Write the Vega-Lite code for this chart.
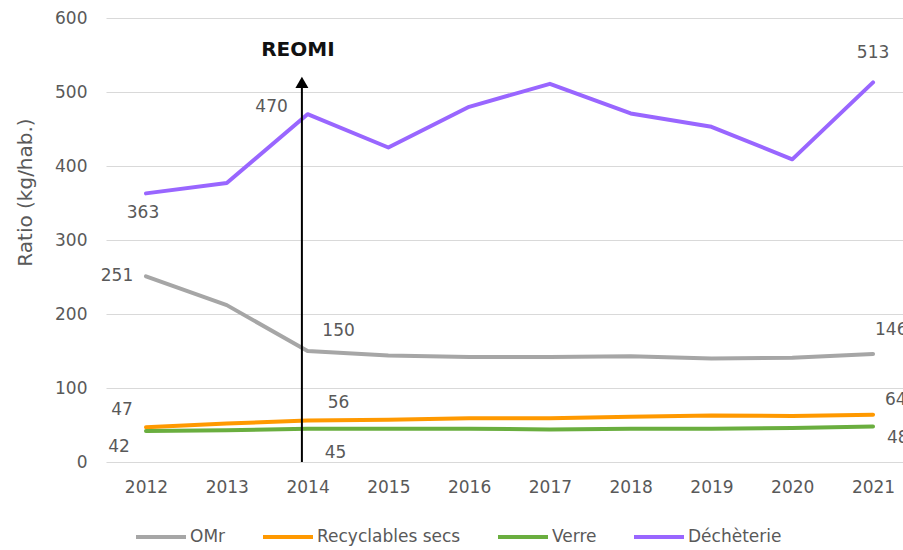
{
  "$schema": "https://vega.github.io/schema/vega-lite/v6.json",
  "width": 797,
  "height": 444,
  "autosize": {"type": "none"},
  "padding": {"left": 106, "top": 18, "right": 0, "bottom": 88},
  "background": "white",
  "config": {"view": {"stroke": null}, "font": "DejaVu Sans"},
  "datasets": {
    "series": [
      {"year": 2012, "serie": "OMr", "value": 251},
      {"year": 2013, "serie": "OMr", "value": 212},
      {"year": 2014, "serie": "OMr", "value": 150},
      {"year": 2015, "serie": "OMr", "value": 144},
      {"year": 2016, "serie": "OMr", "value": 142},
      {"year": 2017, "serie": "OMr", "value": 142},
      {"year": 2018, "serie": "OMr", "value": 143},
      {"year": 2019, "serie": "OMr", "value": 140},
      {"year": 2020, "serie": "OMr", "value": 141},
      {"year": 2021, "serie": "OMr", "value": 146},
      {"year": 2012, "serie": "Recyclables secs", "value": 47},
      {"year": 2013, "serie": "Recyclables secs", "value": 52},
      {"year": 2014, "serie": "Recyclables secs", "value": 56},
      {"year": 2015, "serie": "Recyclables secs", "value": 57},
      {"year": 2016, "serie": "Recyclables secs", "value": 59},
      {"year": 2017, "serie": "Recyclables secs", "value": 59},
      {"year": 2018, "serie": "Recyclables secs", "value": 61},
      {"year": 2019, "serie": "Recyclables secs", "value": 63},
      {"year": 2020, "serie": "Recyclables secs", "value": 62},
      {"year": 2021, "serie": "Recyclables secs", "value": 64},
      {"year": 2012, "serie": "Verre", "value": 42},
      {"year": 2013, "serie": "Verre", "value": 43},
      {"year": 2014, "serie": "Verre", "value": 45},
      {"year": 2015, "serie": "Verre", "value": 45},
      {"year": 2016, "serie": "Verre", "value": 45},
      {"year": 2017, "serie": "Verre", "value": 44},
      {"year": 2018, "serie": "Verre", "value": 45},
      {"year": 2019, "serie": "Verre", "value": 45},
      {"year": 2020, "serie": "Verre", "value": 46},
      {"year": 2021, "serie": "Verre", "value": 48},
      {"year": 2012, "serie": "Déchèterie", "value": 363},
      {"year": 2013, "serie": "Déchèterie", "value": 377},
      {"year": 2014, "serie": "Déchèterie", "value": 470},
      {"year": 2015, "serie": "Déchèterie", "value": 425},
      {"year": 2016, "serie": "Déchèterie", "value": 480},
      {"year": 2017, "serie": "Déchèterie", "value": 511},
      {"year": 2018, "serie": "Déchèterie", "value": 471},
      {"year": 2019, "serie": "Déchèterie", "value": 453},
      {"year": 2020, "serie": "Déchèterie", "value": 409},
      {"year": 2021, "serie": "Déchèterie", "value": 513}
    ],
    "annot": [
      {"year": 2013.93, "y0": 0, "y1": 506, "tip": 513, "ty": 557, "label": "REOMI"}
    ]
  },
  "layer": [
    {
      "data": {"name": "series"},
      "mark": {"type": "line", "strokeWidth": 4, "strokeCap": "round", "strokeJoin": "round"},
      "encoding": {
        "x": {
          "field": "year", "type": "quantitative",
          "scale": {"domain": [2011.505, 2021.371], "nice": false, "zero": false},
          "axis": {
            "values": [2012, 2013, 2014, 2015, 2016, 2017, 2018, 2019, 2020, 2021],
            "format": "d", "grid": false, "domain": false, "ticks": false,
            "labelFontSize": 17, "labelColor": "#595959", "labelPadding": 17,
            "title": null
          }
        },
        "y": {
          "field": "value", "type": "quantitative",
          "scale": {"domain": [0, 600], "nice": false},
          "axis": {
            "values": [0, 100, 200, 300, 400, 500, 600],
            "grid": true, "gridColor": "#d9d9d9", "gridWidth": 1,
            "domain": false, "ticks": false,
            "labelFontSize": 17, "labelColor": "#595959", "labelPadding": 19,
            "title": "Ratio (kg/hab.)", "titleFontSize": 20, "titleColor": "#595959",
            "titleFontWeight": "normal", "titleX": -81, "titleY": 174,
            "titleAlign": "center", "titleBaseline": "middle", "titleAngle": -90
          }
        },
        "color": {
          "field": "serie", "type": "nominal",
          "scale": {
            "domain": ["OMr", "Recyclables secs", "Verre", "Déchèterie"],
            "range": ["#A6A6A6", "#FF9900", "#6AAE3F", "#9966FF"]
          },
          "legend": {
            "orient": "none", "legendX": 28, "legendY": 492, "direction": "horizontal",
            "title": null, "symbolType": "stroke", "symbolSize": 2500, "symbolStrokeWidth": 4,
            "labelFontSize": 17, "labelColor": "#595959", "columnPadding": 29, "labelOffset": 2
          }
        }
      }
    },
    {
      "data": {"name": "annot"},
      "mark": {"type": "rule", "color": "black", "strokeWidth": 2},
      "encoding": {
        "x": {"field": "year", "type": "quantitative"},
        "y": {"field": "y0", "type": "quantitative"},
        "y2": {"field": "y1"}
      }
    },
    {
      "data": {"name": "annot"},
      "mark": {"type": "point", "shape": "triangle-up", "filled": true, "color": "black", "size": 169, "opacity": 1},
      "encoding": {
        "x": {"field": "year", "type": "quantitative"},
        "y": {"field": "tip", "type": "quantitative"}
      }
    },
    {
      "data": {"name": "annot"},
      "mark": {"type": "text", "color": "#111111", "fontSize": 20, "fontWeight": "bold", "dx": -4, "baseline": "middle"},
      "encoding": {
        "x": {"field": "year", "type": "quantitative"},
        "y": {"field": "ty", "type": "quantitative"},
        "text": {"field": "label"}
      }
    },
    {
      "data": {"name": "series"},
      "transform": [{"filter": "datum.serie == 'Déchèterie' && datum.year == 2012"}],
      "mark": {"type": "text", "fontSize": 17, "color": "#595959", "dx": -3, "dy": 20, "baseline": "middle"},
      "encoding": {"x": {"field": "year", "type": "quantitative"}, "y": {"field": "value", "type": "quantitative"}, "text": {"field": "value"}}
    },
    {
      "data": {"name": "series"},
      "transform": [{"filter": "datum.serie == 'Déchèterie' && datum.year == 2014"}],
      "mark": {"type": "text", "fontSize": 17, "color": "#595959", "dx": -36, "dy": -7, "baseline": "middle"},
      "encoding": {"x": {"field": "year", "type": "quantitative"}, "y": {"field": "value", "type": "quantitative"}, "text": {"field": "value"}}
    },
    {
      "data": {"name": "series"},
      "transform": [{"filter": "datum.serie == 'Déchèterie' && datum.year == 2021"}],
      "mark": {"type": "text", "fontSize": 17, "color": "#595959", "dx": 0, "dy": -29, "baseline": "middle"},
      "encoding": {"x": {"field": "year", "type": "quantitative"}, "y": {"field": "value", "type": "quantitative"}, "text": {"field": "value"}}
    },
    {
      "data": {"name": "series"},
      "transform": [{"filter": "datum.serie == 'OMr' && datum.year == 2012"}],
      "mark": {"type": "text", "fontSize": 17, "color": "#595959", "dx": -29, "dy": 0, "baseline": "middle"},
      "encoding": {"x": {"field": "year", "type": "quantitative"}, "y": {"field": "value", "type": "quantitative"}, "text": {"field": "value"}}
    },
    {
      "data": {"name": "series"},
      "transform": [{"filter": "datum.serie == 'OMr' && datum.year == 2014"}],
      "mark": {"type": "text", "fontSize": 17, "color": "#595959", "dx": 31, "dy": -20, "baseline": "middle"},
      "encoding": {"x": {"field": "year", "type": "quantitative"}, "y": {"field": "value", "type": "quantitative"}, "text": {"field": "value"}}
    },
    {
      "data": {"name": "series"},
      "transform": [{"filter": "datum.serie == 'OMr' && datum.year == 2021"}],
      "mark": {"type": "text", "fontSize": 17, "color": "#595959", "align": "left", "dx": 2, "dy": -24, "baseline": "middle"},
      "encoding": {"x": {"field": "year", "type": "quantitative"}, "y": {"field": "value", "type": "quantitative"}, "text": {"field": "value"}}
    },
    {
      "data": {"name": "series"},
      "transform": [{"filter": "datum.serie == 'Recyclables secs' && datum.year == 2012"}],
      "mark": {"type": "text", "fontSize": 17, "color": "#595959", "dx": -24, "dy": -17, "baseline": "middle"},
      "encoding": {"x": {"field": "year", "type": "quantitative"}, "y": {"field": "value", "type": "quantitative"}, "text": {"field": "value"}}
    },
    {
      "data": {"name": "series"},
      "transform": [{"filter": "datum.serie == 'Recyclables secs' && datum.year == 2014"}],
      "mark": {"type": "text", "fontSize": 17, "color": "#595959", "dx": 31, "dy": -18, "baseline": "middle"},
      "encoding": {"x": {"field": "year", "type": "quantitative"}, "y": {"field": "value", "type": "quantitative"}, "text": {"field": "value"}}
    },
    {
      "data": {"name": "series"},
      "transform": [{"filter": "datum.serie == 'Recyclables secs' && datum.year == 2021"}],
      "mark": {"type": "text", "fontSize": 17, "color": "#595959", "align": "left", "dx": 12, "dy": -15, "baseline": "middle"},
      "encoding": {"x": {"field": "year", "type": "quantitative"}, "y": {"field": "value", "type": "quantitative"}, "text": {"field": "value"}}
    },
    {
      "data": {"name": "series"},
      "transform": [{"filter": "datum.serie == 'Verre' && datum.year == 2012"}],
      "mark": {"type": "text", "fontSize": 17, "color": "#595959", "dx": -27, "dy": 16, "baseline": "middle"},
      "encoding": {"x": {"field": "year", "type": "quantitative"}, "y": {"field": "value", "type": "quantitative"}, "text": {"field": "value"}}
    },
    {
      "data": {"name": "series"},
      "transform": [{"filter": "datum.serie == 'Verre' && datum.year == 2014"}],
      "mark": {"type": "text", "fontSize": 17, "color": "#595959", "dx": 28, "dy": 24, "baseline": "middle"},
      "encoding": {"x": {"field": "year", "type": "quantitative"}, "y": {"field": "value", "type": "quantitative"}, "text": {"field": "value"}}
    },
    {
      "data": {"name": "series"},
      "transform": [{"filter": "datum.serie == 'Verre' && datum.year == 2021"}],
      "mark": {"type": "text", "fontSize": 17, "color": "#595959", "align": "left", "dx": 14, "dy": 12, "baseline": "middle"},
      "encoding": {"x": {"field": "year", "type": "quantitative"}, "y": {"field": "value", "type": "quantitative"}, "text": {"field": "value"}}
    }
  ]
}
